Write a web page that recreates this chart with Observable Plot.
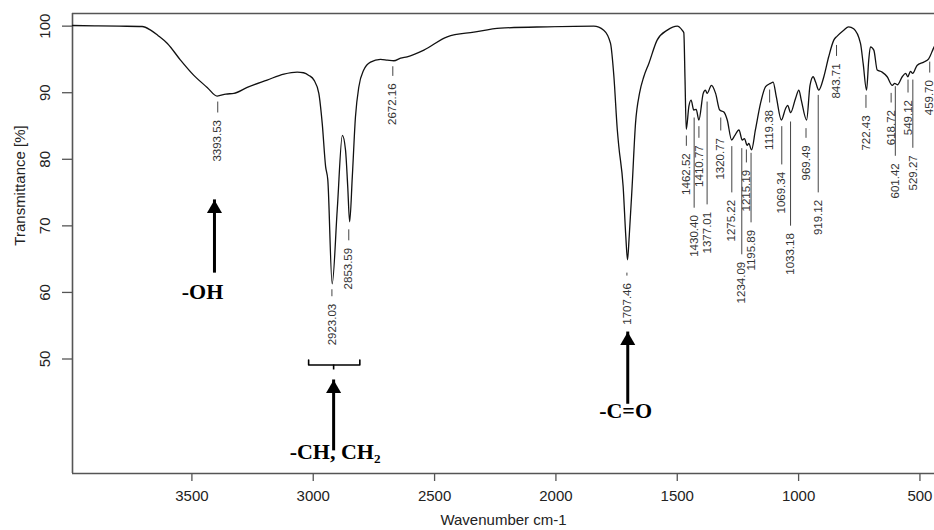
<!DOCTYPE html>
<html>
<head>
<meta charset="utf-8">
<script src="https://cdn.jsdelivr.net/npm/d3@7"></script>
<script src="https://cdn.jsdelivr.net/npm/@observablehq/plot@0.6"></script>
<style>html,body{margin:0;padding:0;background:#fff;overflow:hidden}</style>
</head>
<body>
<div id="chart"></div>
<script>
// FTIR spectrum
const wavenumber = [3992,3900,3800,3705,3670,3640,3601,3547,3492,3437,3396,3360,3327,3272,3190,3121,3066,3040,3018,2997,2977,2963,2949,2940,2922,2901,2880,2867,2858,2850,2839,2826,2812,2792,2764,2723,2695,2668,2640,2613,2544,2448,2338,2228,2036,1844,1803,1775,1761,1747,1741,1723,1712,1705,1698,1686,1672,1655,1638,1617,1583,1541,1500,1480,1473,1468,1463,1452,1443,1432,1422,1411,1393,1384,1377,1359,1342,1325,1308,1294,1276,1264,1246,1232,1223,1212,1205,1194,1178,1157,1136,1116,1105,1092,1071,1054,1045,1033,1013,999,989,967,953,940,930,917,896,876,855,841,814,794,773,745,734,720,711,704,690,676,656,635,614,604,593,573,559,550,539,530,512,484,464,444,440];
const transmittance = [100.1,100.05,100.0,99.95,99.4,98.6,97.4,94.9,92.6,90.8,89.5,89.8,89.9,90.8,91.9,92.8,93.1,93.0,92.6,91.9,89.9,85.4,78.9,76.9,61.3,72.5,83.6,81.4,76.0,70.6,77.4,86.4,90.9,93.4,94.6,95.0,94.9,94.8,95.2,95.4,96.4,98.4,99.1,99.7,99.9,100.0,99.4,97.4,92.4,84.4,82.0,75.9,68.4,64.9,68.4,75.9,85.4,90.0,92.4,94.4,97.9,99.4,100.0,99.4,99.0,92.0,84.5,88.0,88.9,87.4,87.5,85.9,89.9,90.4,89.9,91.1,89.9,87.4,87.1,85.9,82.9,83.5,84.4,82.9,83.1,82.1,82.4,81.4,84.4,88.4,90.9,91.4,91.6,89.4,85.9,87.6,88.1,87.0,89.1,90.4,88.9,85.9,91.1,92.4,91.6,90.4,92.4,95.4,97.9,98.5,99.4,99.9,99.6,97.4,94.4,90.4,94.9,96.9,96.4,93.4,93.1,92.4,91.1,91.4,91.2,92.4,92.9,92.4,93.2,92.9,94.1,94.6,95.1,96.7,97.0];

// Peak labels: wavenumber, top of leader tick and top of the label text (in % T)
const peakWn = [3393.53,2923.03,2853.59,2672.16,1707.46,1462.52,1430.40,1410.77,1377.01,1320.77,1275.22,1234.09,1215.19,1195.89,1119.38,1069.34,1033.18,969.49,919.12,843.71,722.43,618.72,601.42,549.12,529.27,459.70];
const peakTop = [88.6,60.4,69.4,93.9,62.9,83.5,86.2,84.9,88.6,86.2,81.9,81.6,81.4,80.9,90.4,84.9,85.6,84.6,89.6,97.1,89.6,89.9,90.9,91.9,91.9,94.6];
const peakTextTop = [85.9,58.3,66.7,91.4,61.4,80.9,71.6,82.1,72.1,83.2,73.9,64.6,78.4,69.4,87.4,78.1,68.9,82.1,73.9,94.4,86.6,87.4,79.4,88.9,80.6,91.9];

// Axes
const xTicks = [3500,3000,2500,2000,1500,1000,500];
const yTicks = [50,60,70,80,90,100];
const xDomain = [3992, 440];
const yDomain = [32.8, 101.9];

// Functional group annotations
const groupLabels = ["-OH", "-CH, CH\u2082", "-C=O"];
const groupLabelWn = [3456, 2910, 1713];
const groupLabelT = [60.0, 36.0, 42.2];
const arrowWn = [3407, 2916, 1704];
const arrowBaseT = [64.1, 37.4, 44.4];
const arrowTipT = [73.9, 46.85, 54.05];
const bracketWn = [3019, 2808];
const bracketT = [49.85, 49.1];
const bracketCenterT = [49.1, 48.35];

const spectrum = wavenumber.map((w, i) => ({w, t: transmittance[i]}));
const peaks = peakWn.map((w, i) => ({w, top: peakTop[i], textTop: peakTextTop[i], label: w.toFixed(2)}));
const groups = groupLabels.map((label, i) => ({label, lw: groupLabelWn[i], lt: groupLabelT[i], aw: arrowWn[i], ab: arrowBaseT[i], at: arrowTipT[i]}));
const bracketPts = [
  {w: bracketWn[0], t: bracketT[0]}, {w: bracketWn[0], t: bracketT[1]},
  {w: bracketWn[1], t: bracketT[1]}, {w: bracketWn[1], t: bracketT[0]}
];

const frameColor = "#555";
const chart = Plot.plot({
  width: 934,
  height: 530,
  marginLeft: 72,
  marginRight: 0,
  marginTop: 13,
  marginBottom: 57,
  style: {fontFamily: "'Liberation Sans', Arial, sans-serif", background: "#fff", color: "#222"},
  x: {domain: xDomain, axis: null},
  y: {domain: yDomain, axis: null},
  marks: [
    // frame (top, bottom, left)
    Plot.ruleY(yDomain, {stroke: frameColor, strokeWidth: 1.6}),
    Plot.ruleX([xDomain[0]], {y1: yDomain[0], y2: yDomain[1], stroke: frameColor, strokeWidth: 1.6}),
    // x axis
    Plot.axisX({ticks: xTicks, tickFormat: d => String(d), tickSize: 8, tickPadding: 9, fontSize: 15, stroke: frameColor, fill: "#222", label: null, strokeWidth: 1.3}),
    Plot.text(["Wavenumber cm-1"], {frameAnchor: "bottom", dy: 47, lineAnchor: "middle", fontSize: 15, fill: "#222"}),
    // y axis
    Plot.axisY({ticks: yTicks, tickSize: 10, tickFormat: () => "", label: null, stroke: frameColor, strokeWidth: 1.3}),
    Plot.text(yTicks, {y: d => d, text: d => String(d), frameAnchor: "left", dx: -27, rotate: -90, lineAnchor: "middle", textAnchor: "middle", fontSize: 15, fill: "#222"}),
    Plot.text(["Transmittance [%]"], {frameAnchor: "top-left", dx: -52, dy: 172, rotate: -90, lineAnchor: "middle", textAnchor: "middle", fontSize: 15, fill: "#222"}),
    // spectrum
    Plot.line(spectrum, {x: "w", y: "t", stroke: "#111", strokeWidth: 1.3, curve: "monotone-x"}),
    // peak labels
    Plot.ruleX(peaks, {x: "w", y1: "top", y2: "textTop", insetBottom: 7, stroke: "#444", strokeWidth: 1}),
    Plot.text(peaks, {x: "w", y: "textTop", text: "label", rotate: -90, textAnchor: "end", lineAnchor: "middle", fontSize: 11.5, fill: "#333"}),
    // annotations
    Plot.ruleX(groups, {x: "aw", y1: "ab", y2: "at", insetTop: 8, stroke: "#000", strokeWidth: 3}),
    Plot.dot(groups, {x: "aw", y: "at", dy: 8.7, symbol: "triangle", r: 5.6, fill: "#000", stroke: "none"}),
    Plot.text(groups, {x: "lw", y: "lt", text: "label", fontSize: 22, fontWeight: "bold", fontFamily: "'Liberation Serif', 'Times New Roman', 'DejaVu Serif', serif", fill: "#000"}),
    Plot.line(bracketPts, {x: "w", y: "t", stroke: "#000", strokeWidth: 1.6}),
    Plot.ruleX([arrowWn[1]], {y1: bracketCenterT[0], y2: bracketCenterT[1], stroke: "#000", strokeWidth: 1.6})
  ]
});
document.getElementById("chart").appendChild(chart);
</script>
</body>
</html>
